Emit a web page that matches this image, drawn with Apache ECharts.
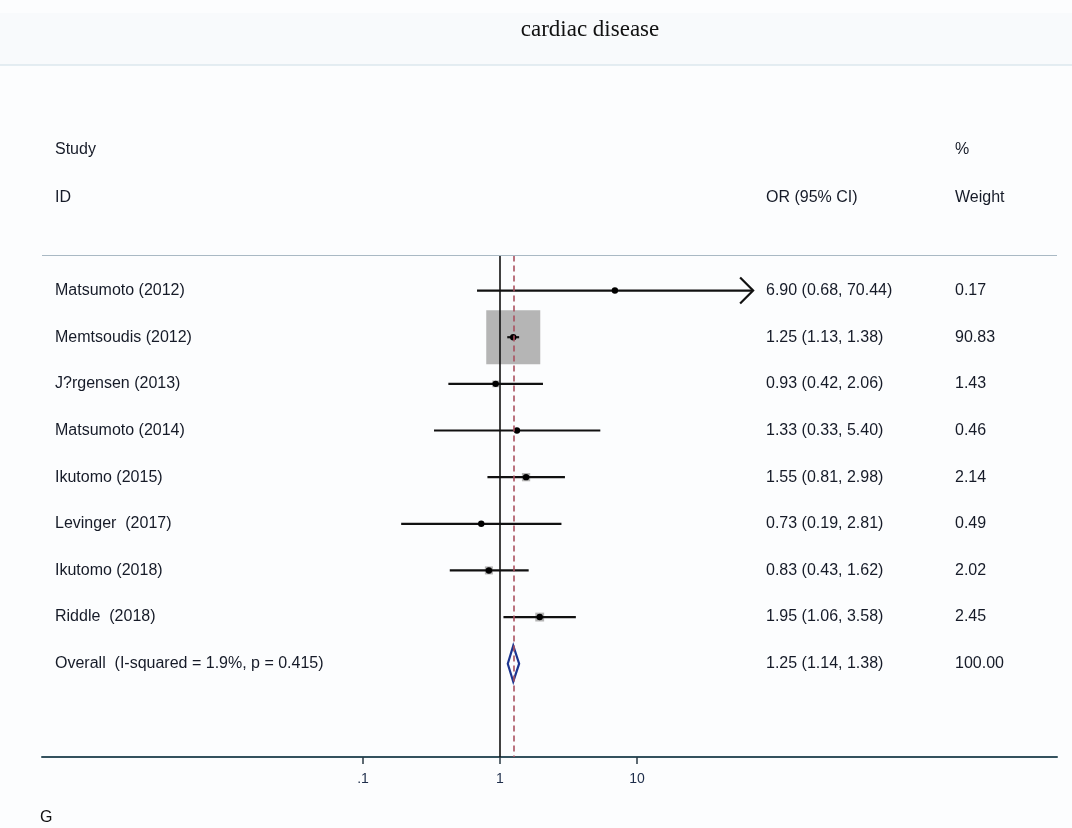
<!DOCTYPE html>
<html>
<head>
<meta charset="utf-8">
<title>cardiac disease</title>
<script src="https://cdn.jsdelivr.net/npm/echarts@6/dist/echarts.min.js"></script>
<style>
  html, body { margin: 0; padding: 0; background: #fcfdfe; }
  #chart { width: 1072px; height: 828px; }
</style>
</head>
<body>
<div id="chart"></div>
<script>
// studies, top to bottom
const studies = ['Matsumoto (2012)', 'Memtsoudis (2012)', 'J?rgensen (2013)', 'Matsumoto (2014)', 'Ikutomo (2015)', 'Levinger  (2017)', 'Ikutomo (2018)', 'Riddle  (2018)']
const oddsRatio = [6.90, 1.25, 0.93, 1.33, 1.55, 0.73, 0.83, 1.95]
const ciLow = [0.68, 1.13, 0.42, 0.33, 0.81, 0.19, 0.43, 1.06]
const ciHigh = [70.44, 1.38, 2.06, 5.40, 2.98, 2.81, 1.62, 3.58]
const weights = [0.17, 90.83, 1.43, 0.46, 2.14, 0.49, 2.02, 2.45]

const overallLabel = 'Overall  (I-squared = 1.9%, p = 0.415)'
const overall = [1.25, 1.14, 1.38] // OR, low, high
const overallWeight = 100.00

const tickValues = [0.1, 1, 10]
const tickLabels = ['.1', '1', '10']

const textFont = '"Liberation Sans", Arial, sans-serif'
const textColor = '#161b28'
const boxMax = 54 // px side of the biggest weight box
const maxWeight = Math.max(...weights)
const arrowFrom = 50 // CI drawn with an arrow past this

const chart = echarts.init(document.getElementById('chart'))

function txt (x, y, s) {
  return {
    type: 'text',
    x: x,
    y: y,
    style: { text: s, fill: textColor, font: '16px ' + textFont, textVerticalAlign: 'middle' }
  }
}

function fmt (v) {
  return v.toFixed(2)
}

function renderStudy (params, api) {
  const i = params.dataIndex
  const row = api.value(0)
  const pt = api.coord([api.value(1), row])
  const lo = api.coord([api.value(2), row])
  const hi = api.coord([api.value(3), row])
  const side = boxMax * Math.sqrt(api.value(4) / maxWeight)
  const children = [
    {
      type: 'rect',
      shape: { x: pt[0] - side / 2, y: pt[1] - side / 2, width: side, height: side },
      style: { fill: '#b5b5b5' }
    },
    {
      type: 'line',
      shape: { x1: lo[0], y1: lo[1], x2: hi[0], y2: hi[1] },
      style: { stroke: '#111', lineWidth: 2.2 }
    },
    {
      type: 'circle',
      shape: { cx: pt[0], cy: pt[1], r: 3.2 },
      style: { fill: '#000' }
    }
  ]
  if (api.value(3) > arrowFrom) {
    children.push({
      type: 'polyline',
      shape: { points: [[hi[0] - 13, hi[1] - 13], [hi[0], hi[1]], [hi[0] - 13, hi[1] + 13]] },
      style: { stroke: '#111', lineWidth: 2.2, fill: null }
    })
  }
  children.push(txt(55, pt[1], studies[i]))
  children.push(txt(766, pt[1], fmt(oddsRatio[i]) + ' (' + fmt(ciLow[i]) + ', ' + fmt(ciHigh[i]) + ')'))
  children.push(txt(955, pt[1], fmt(weights[i])))
  return { type: 'group', children: children }
}

function renderOverall (params, api) {
  const row = api.value(0)
  const c = api.coord([api.value(1), row])
  const lo = api.coord([api.value(2), row])
  const hi = api.coord([api.value(3), row])
  const h = 18
  return {
    type: 'group',
    children: [
      {
        type: 'polygon',
        shape: { points: [[lo[0], lo[1]], [c[0], c[1] - h], [hi[0], hi[1]], [c[0], c[1] + h]] },
        style: { stroke: '#1c3590', lineWidth: 2.2, fill: 'rgba(255,255,255,0)' }
      },
      txt(55, c[1], overallLabel),
      txt(766, c[1], fmt(overall[0]) + ' (' + fmt(overall[1]) + ', ' + fmt(overall[2]) + ')'),
      txt(955, c[1], overallWeight.toFixed(2))
    ]
  }
}

const studyData = studies.map((s, i) => [i, oddsRatio[i], ciLow[i], ciHigh[i], weights[i]])
const overallRow = studies.length
const topRow = -0.75
const bottomRow = 10
const xMin = Math.pow(10, -3.343)
const xMax = Math.pow(10, 4.066)

const option = {
  animation: false,
  backgroundColor: '#fcfdfe',
  graphic: [
    { type: 'rect', shape: { x: 0, y: 13, width: 1072, height: 52 }, style: { fill: '#f8fafc' }, silent: true },
    { type: 'line', shape: { x1: 0, y1: 65, x2: 1072, y2: 65 }, style: { stroke: '#dce7ee', lineWidth: 1.5 }, silent: true },
    {
      type: 'text', x: 590, y: 30,
      style: { text: 'cardiac disease', fill: '#111', font: '23px "Liberation Serif", "Times New Roman", serif', textAlign: 'center', textVerticalAlign: 'middle' }
    },
    txt(55, 150, 'Study'),
    txt(55, 198, 'ID'),
    txt(766, 198, 'OR (95% CI)'),
    txt(955, 150, '%'),
    txt(955, 198, 'Weight'),
    {
      type: 'text', x: 40, y: 818,
      style: { text: 'G', fill: '#111', font: '16px ' + textFont, textVerticalAlign: 'middle' }
    }
  ],
  grid: {
    left: 42,
    right: 15,
    top: 104,
    bottom: 71
  },
  xAxis: {
    type: 'log',
    logBase: 10,
    min: xMin,
    max: xMax,
    splitLine: { show: false },
    axisLine: { onZero: false, lineStyle: { color: '#34525e', width: 2 } },
    axisTick: {
      customValues: tickValues,
      length: 7,
      lineStyle: { color: '#2a3a44', width: 1.5 }
    },
    axisLabel: {
      customValues: tickValues,
      color: '#1e2d4a',
      fontSize: 14,
      fontFamily: textFont,
      margin: 15,
      formatter: function (v) {
        let best = 0
        tickValues.forEach((t, k) => {
          if (Math.abs(Math.log10(v) - Math.log10(t)) < Math.abs(Math.log10(v) - Math.log10(tickValues[best]))) best = k
        })
        return tickLabels[best]
      }
    }
  },
  yAxis: {
    type: 'value',
    inverse: true,
    min: -4,
    max: 10,
    show: false
  },
  series: [
    {
      // reference lines
      type: 'line',
      data: [],
      z: 1,
      markLine: {
        silent: true,
        symbol: ['none', 'none'],
        label: { show: false },
        data: [
          [{ coord: [1, topRow], lineStyle: { color: '#111', width: 1.6, type: 'solid' } }, { coord: [1, bottomRow] }],
          [{ coord: [overall[0], topRow], lineStyle: { color: '#a9505f', width: 1.6, type: [6, 4] } }, { coord: [overall[0], bottomRow] }],
          [{ coord: [xMin, topRow], lineStyle: { color: '#a9b9c4', width: 1.2, type: 'solid' } }, { coord: [xMax, topRow] }]
        ]
      }
    },
    {
      type: 'custom',
      z: 3,
      renderItem: renderStudy,
      data: studyData
    },
    {
      type: 'custom',
      z: 3,
      renderItem: renderOverall,
      data: [[overallRow, overall[0], overall[1], overall[2]]]
    }
  ]
}

chart.setOption(option)
</script>
</body>
</html>
